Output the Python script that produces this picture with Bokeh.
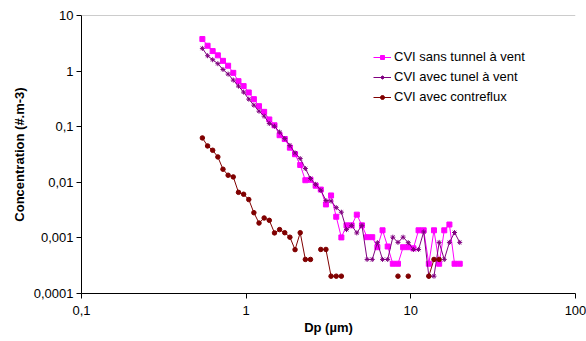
from bokeh.plotting import figure
from bokeh.models import Range1d, FixedTicker, Legend, LegendItem, Span, CustomJSTickFormatter
from bokeh.embed import file_html
from bokeh.resources import INLINE

nan = float("nan")

# Particle diameter (µm) - APS channel midpoints
dp = [0.542, 0.583, 0.626, 0.673, 0.723, 0.777, 0.835, 0.898, 0.965, 1.037,
      1.114, 1.197, 1.286, 1.382, 1.486, 1.596, 1.715, 1.843, 1.981, 2.129,
      2.288, 2.458, 2.642, 2.839, 3.051, 3.278, 3.523, 3.786, 4.068, 4.371,
      4.698, 5.048, 5.425, 5.829, 6.264, 6.732, 7.234, 7.774, 8.354, 8.977,
      9.647, 10.37, 11.14, 11.97, 12.86, 13.82, 14.86, 15.96, 17.15, 18.43,
      19.81]

cvi_sans_tunnel = [3.77, 2.86, 2.29, 1.92, 1.53, 1.25, 0.93, 0.66, 0.537, 0.413,
                   0.313, 0.234, 0.185, 0.135, 0.106, 0.0703, 0.06, 0.042, 0.032, 0.0205,
                   0.0109, 0.0111, 0.0087, 0.0074, 0.0040, 0.0058, 0.0024, 0.00102, 0.00168, 0.00168,
                   0.00262, 0.00168, 0.00103, 0.00103, 0.00068, 0.00137, 0.0007, 0.000343, 0.000343, 0.00068,
                   0.00068, 0.00065, 0.00137, 0.00137, 0.000343, 0.00137, 0.000343, 0.00137, 0.00174, 0.000343,
                   0.000343]

cvi_avec_tunel = [2.56, 1.89, 1.6, 1.36, 1.07, 0.883, 0.689, 0.537, 0.419, 0.313,
                  0.244, 0.19, 0.155, 0.114, 0.102, 0.08, 0.0612, 0.046, 0.0337, 0.0267,
                  0.0177, 0.0117, 0.0092, 0.0072, 0.0047, 0.0046, 0.0035, 0.0029, 0.00141, 0.00168,
                  0.00123, 0.00168, 0.00041, 0.00041, 0.00082, 0.00041, 0.00041, 0.00103, 0.00083, 0.00103,
                  0.00082, 0.00062, 0.00062, 0.00128, 0.000205, 0.000205, 0.00083, 0.00041, 0.00083, 0.00125,
                  0.00083]

cvi_contreflux = [0.0628, 0.0451, 0.0377, 0.0286, 0.0172, 0.0134, 0.0125, 0.0066, 0.0061, 0.0049,
                  0.00284, 0.00185, 0.00228, 0.00207, 0.00123, 0.00141, 0.00124, 0.00103, 0.000615, 0.00124,
                  0.00041, 0.00041, nan, 0.00062, 0.00062, 0.000205, 0.000205, 0.000205, nan, nan,
                  nan, nan, nan, nan, nan, nan, nan, nan, 0.000205, nan,
                  0.000205, nan, nan, nan, 0.000205, 0.00041, 0.00041, nan, nan, nan,
                  nan]

series_names = ["CVI sans tunnel à vent", "CVI avec tunel à vent", "CVI avec contreflux"]

x_ticks = [0.1, 1, 10, 100]
x_tick_labels = ["0,1", "1", "10", "100"]
y_ticks = [0.0001, 0.001, 0.01, 0.1, 1, 10]
y_tick_labels = ["0,0001", "0,001", "0,01", "0,1", "1", "10"]

FONT = "Liberation Sans"

p = figure(width=586, height=341, x_axis_type="log", y_axis_type="log",
           x_range=Range1d(0.1, 100), y_range=Range1d(0.0001, 10),
           output_backend="svg", toolbar_location=None,
           min_border_left=81, min_border_right=11, min_border_top=15, min_border_bottom=48,
           background_fill_color="white", border_fill_color="white")
p.outline_line_color = None
p.grid.visible = False

code = """
let best = 0, bd = Infinity;
for (let i = 0; i < tv.length; i++) {
  const d = Math.abs(Math.log10(tick) - Math.log10(tv[i]));
  if (d < bd) { bd = d; best = i; }
}
return tl[best];
"""
p.xaxis.ticker = FixedTicker(ticks=x_ticks, minor_ticks=[])
p.yaxis.ticker = FixedTicker(ticks=y_ticks, minor_ticks=[])
p.xaxis.formatter = CustomJSTickFormatter(args=dict(tv=x_ticks, tl=x_tick_labels), code=code)
p.yaxis.formatter = CustomJSTickFormatter(args=dict(tv=y_ticks, tl=y_tick_labels), code=code)

for ax in (p.xaxis, p.yaxis):
    ax.axis_line_color = "black"
    ax.major_tick_line_color = "black"
    ax.major_tick_in = 0
    ax.major_tick_out = 5
    ax.minor_tick_line_color = None
    ax.major_label_text_font = FONT
    ax.major_label_text_font_size = "13px"
    ax.major_label_text_color = "black"
    ax.axis_label_text_font = FONT
    ax.axis_label_text_font_size = "13px"
    ax.axis_label_text_font_style = "bold"
    ax.axis_label_text_color = "black"

p.xaxis.axis_label = "Dp (µm)"
p.yaxis.axis_label = "Concentration (#.m-3)"
p.xaxis.major_label_standoff = 7
p.yaxis.major_label_standoff = 3
p.xaxis.axis_label_standoff = 2
p.yaxis.axis_label_standoff = 4

p.add_layout(Span(location=10, dimension="width", line_color="#999999", line_width=1))

l1 = p.line(dp, cvi_sans_tunnel, line_color="#FF00FF", line_width=1)
s1 = p.scatter(dp, cvi_sans_tunnel, marker="square", size=5, fill_color="#FF00FF", line_color="#FF00FF")
l2 = p.line(dp, cvi_avec_tunel, line_color="#800080", line_width=1)
s2 = p.scatter(dp, cvi_avec_tunel, marker="asterisk", size=5, line_color="#800080", line_width=1)
l3 = p.line(dp, cvi_contreflux, line_color="#800000", line_width=1)
s3 = p.scatter(dp, cvi_contreflux, marker="circle", size=4.5, fill_color="#800000", line_color="#800000")

legend = Legend(items=[
    LegendItem(label=series_names[0], renderers=[l1, s1]),
    LegendItem(label=series_names[1], renderers=[l2, s2]),
    LegendItem(label=series_names[2], renderers=[l3, s3]),
], location=(292, 189))
legend.label_text_font = FONT
legend.label_text_font_size = "13px"
legend.label_text_color = "black"
legend.glyph_width = 18
legend.glyph_height = 10
legend.label_height = 10
legend.spacing = 5
legend.padding = 0
legend.margin = 0
legend.label_standoff = 3
legend.border_line_color = None
legend.background_fill_alpha = 0
p.add_layout(legend)

open("out.html", "w").write(file_html(p, INLINE))
